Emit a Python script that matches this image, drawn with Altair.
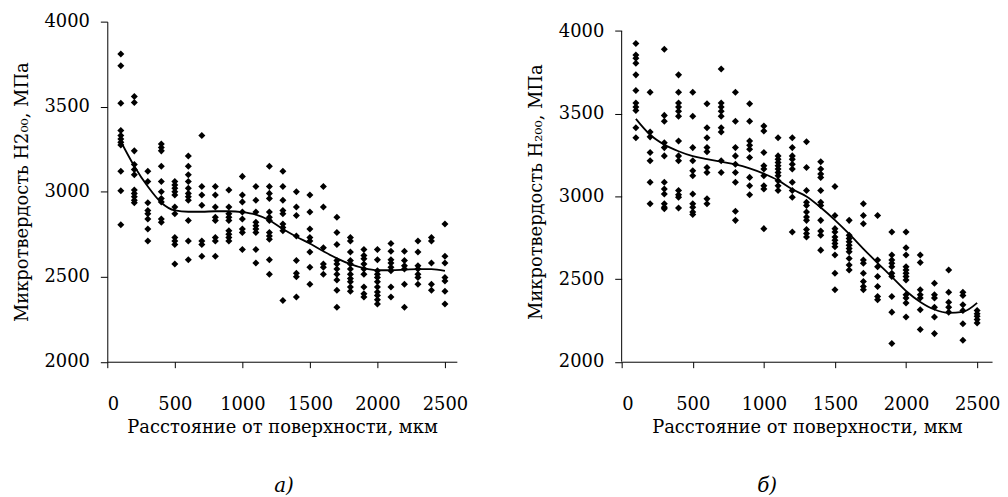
import altair as alt
import pandas as pd

depths = list(range(100, 2600, 100))
x_ticks = [0, 500, 1000, 1500, 2000, 2500]
y_ticks = [2000, 2500, 3000, 3500, 4000]

x_title = "Расстояние от поверхности, мкм"
y_title_a = "Микротвердость Н2₀₀, МПа"
y_title_b = "Микротвердость Н₂₀₀, МПа"

# panel a) measured microhardness, one list per depth
hardness_a = [
    [3810, 3740, 3520, 3360, 3330, 3310, 3290, 3275, 3120, 3005, 2805],
    [3560, 3525, 3240, 3160, 3130, 3100, 3010, 2990, 2970, 2950, 2935],
    [3120, 3060, 2935, 2890, 2870, 2840, 2780, 2710],
    [3280, 3260, 3240, 3150, 3060, 3000, 2960, 2940, 2840, 2820],
    [3060, 3040, 3020, 3000, 2980, 2910, 2870, 2730, 2710, 2690, 2575],
    [3210, 3150, 3100, 3060, 3020, 2990, 2970, 2950, 2830, 2710, 2600],
    [3330, 3030, 2980, 2920, 2710, 2690, 2620],
    [3030, 2980, 2910, 2850, 2830, 2730, 2710, 2620],
    [3010, 2910, 2870, 2850, 2830, 2770, 2750, 2730, 2710],
    [3090, 2980, 2940, 2880, 2840, 2780, 2760, 2660],
    [3030, 2950, 2880, 2820, 2800, 2780, 2760, 2660, 2580],
    [3150, 3030, 2990, 2960, 2880, 2850, 2830, 2760, 2740, 2720, 2600, 2515],
    [3120, 3030, 2950, 2890, 2870, 2810, 2790, 2770, 2360],
    [3000, 2910, 2860, 2740, 2595, 2520, 2500, 2380],
    [2980, 2880, 2780, 2730, 2710, 2645, 2555, 2455],
    [3030, 2910, 2670, 2575, 2555, 2515],
    [2850, 2760, 2690, 2595, 2575, 2545, 2515, 2480, 2420, 2320],
    [2730, 2710, 2645, 2595, 2575, 2545, 2515, 2490, 2470, 2440, 2415],
    [2660, 2625, 2605, 2575, 2545, 2515, 2440, 2400, 2380],
    [2660, 2600, 2535, 2515, 2495, 2470, 2440, 2410, 2390, 2365, 2340],
    [2695, 2650, 2600, 2580, 2555, 2535, 2440, 2380],
    [2650, 2595, 2565, 2545, 2455, 2320],
    [2710, 2645, 2565, 2545, 2515, 2495, 2455],
    [2730, 2710, 2580, 2455, 2420],
    [2810, 2620, 2580, 2495, 2475, 2415, 2340],
]

# panel б) measured microhardness, one list per depth
hardness_b = [
    [3925, 3855, 3835, 3805, 3735, 3640, 3565, 3540, 3520, 3415, 3355],
    [3630, 3390, 3360, 3265, 3215, 3085, 2955],
    [3890, 3490, 3455, 3325, 3295, 3245, 3085, 3045, 3015, 2955, 2935, 2925],
    [3735, 3630, 3565, 3540, 3515, 3485, 3335, 3245, 3215, 3035, 3010, 2995, 2930],
    [3630, 3485, 3295, 3215, 3155, 3125, 3015, 2955, 2935, 2905, 2890],
    [3560, 3415, 3355, 3295, 3270, 3175, 3145, 2985, 2955],
    [3770, 3565, 3540, 3515, 3485, 3415, 3390, 3215, 3145],
    [3630, 3455, 3295, 3245, 3195, 3145, 3085, 2910, 2855],
    [3560, 3455, 3335, 3310, 3285, 3235, 3115, 3065, 3010],
    [3425, 3395, 3265, 3185, 3165, 3125, 3065, 3045, 2805],
    [3355, 3245, 3225, 3205, 3185, 3165, 3145, 3125, 3095, 3065, 3035],
    [3355, 3295, 3245, 3225, 3195, 3165, 3085, 3035, 2995, 2785],
    [3330, 3175, 3035, 2965, 2945, 2905, 2875, 2855, 2800, 2775, 2755],
    [3210, 3165, 3135, 3115, 3035, 2965, 2945, 2855, 2790, 2765, 2675],
    [3060, 2885, 2805, 2785, 2755, 2735, 2715, 2695, 2645, 2535, 2435],
    [2855, 2765, 2745, 2725, 2705, 2685, 2665, 2625, 2585, 2555],
    [2955, 2885, 2835, 2615, 2595, 2535, 2485, 2455, 2435],
    [2885, 2615, 2575, 2515, 2455, 2395, 2375],
    [2785, 2645, 2615, 2595, 2575, 2535, 2515, 2395, 2300, 2110],
    [2785, 2690, 2645, 2575, 2555, 2535, 2515, 2495, 2405, 2385, 2355, 2270],
    [2645, 2600, 2435, 2405, 2385, 2315, 2195],
    [2475, 2405, 2385, 2330, 2270, 2170],
    [2555, 2420, 2360, 2330, 2300],
    [2420, 2400, 2345, 2310, 2230, 2130],
    [2310, 2290, 2275, 2255, 2235],
]

# trend lines
trend_a = [3295, 3150, 3030, 2935, 2890, 2882, 2882, 2885, 2885, 2880, 2865, 2832,
           2780, 2735, 2695, 2650, 2608, 2574, 2550, 2538, 2538, 2541, 2545, 2545, 2535]
trend_b = [3469, 3373, 3313, 3273, 3243, 3225, 3209, 3193, 3169, 3137, 3097, 3043,
           3000, 2933, 2857, 2773, 2683, 2597, 2513, 2428, 2362, 2316, 2296, 2302, 2356]

FONT = "DejaVu Serif"


def panel(values, trend, y_title, y_top, x_max, width, label, label_dx, own_domain):
    pts = pd.DataFrame([{"d": d, "h": h} for d, vals in zip(depths, values) for h in vals])
    tr = pd.DataFrame({"d": depths, "h": trend})
    xenc = alt.X("d:Q", scale=alt.Scale(domain=[0, x_max], nice=False, zero=False),
                 axis=alt.Axis(values=x_ticks, title=x_title, grid=False, tickSize=6,
                               labelPadding=28, titlePadding=5, format="d"))
    yenc = alt.Y("h:Q", scale=alt.Scale(domain=[2000, y_top], nice=False, zero=False),
                 axis=alt.Axis(values=y_ticks, title=y_title, grid=False, tickSize=7,
                               labelPadding=11, titlePadding=13, format="d",
                               domain=own_domain))
    scatter = alt.Chart(pts).mark_point(shape="diamond", filled=True, color="black",
                                        size=50, opacity=1).encode(x=xenc, y=yenc)
    line = alt.Chart(tr).mark_line(color="black", strokeWidth=1.8,
                                   interpolate="monotone").encode(x="d:Q", y="h:Q")
    layers = [scatter, line]
    if not own_domain:
        rule_df = pd.DataFrame({"d": [0], "h": [2000], "h2": [4000]})
        layers.append(alt.Chart(rule_df).mark_rule(color="black", strokeWidth=1)
                      .encode(x="d:Q", y="h:Q", y2="h2:Q"))
    return alt.layer(*layers).properties(
        width=width, height=342.5,
        title=alt.TitleParams(label, orient="bottom", anchor="middle", frame="group",
                              dx=label_dx, offset=40, font=FONT, fontSize=20,
                              fontStyle="italic", fontWeight="normal", color="black"))


left = panel(hardness_a, trend_a, y_title_a, 4000, 2588, 352, "а)", 2, True)
right = panel(hardness_b, trend_b, y_title_b, 4057, 2605, 373, "б)", -40, False)

chart = alt.hconcat(left, right, spacing=60).properties(
    padding={"left": 5, "top": 3, "right": 0, "bottom": 0}
).configure_view(stroke=None).configure_axis(
    labelFont=FONT, titleFont=FONT, labelFontSize=18, titleFontSize=18,
    titleFontWeight="normal", labelColor="black", titleColor="black",
    domainColor="black", tickColor="black", domainWidth=1, tickWidth=1
)

chart.save("out.html", embed_options={"renderer": "svg", "actions": False})
